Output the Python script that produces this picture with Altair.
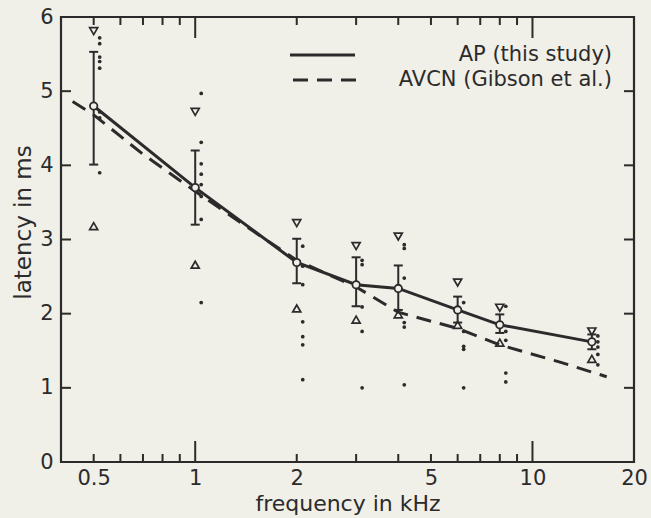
import altair as alt
import pandas as pd

INK = "#2b2b2b"
PAPER = "#f0efe8"
FONT = "DejaVu Sans"

# Frequencies (kHz) at which latencies were measured
freqs = [0.5, 1, 2, 3, 4, 6, 8, 15]
# AP latency: mean and +/- spread (ms)
ap_mean = [4.80, 3.70, 2.69, 2.39, 2.34, 2.05, 1.85, 1.62]
ap_hi = [5.53, 4.20, 3.01, 2.76, 2.65, 2.23, 1.99, 1.72]
ap_lo = [4.01, 3.20, 2.41, 2.10, 2.05, 1.88, 1.74, 1.52]
# Extreme values (open triangles)
tri_down = [5.81, 4.72, 3.22, 2.91, 3.04, 2.42, 2.08, 1.76]
tri_up = [3.18, 2.66, 2.07, 1.92, 1.99, 1.85, 1.61, 1.39]

# Individual measurements (small dots)
dot_freq = ([0.5] * 8 + [1] * 8 + [2] * 7 + [3] * 5 + [4] * 6
            + [6] * 5 + [8] * 5 + [15] * 5)
dot_lat = [5.72, 5.64, 5.46, 5.40, 5.31, 4.72, 4.64, 3.90,
           4.97, 4.31, 4.02, 3.88, 3.74, 3.58, 3.27, 2.15,
           2.91, 2.64, 2.39, 1.89, 1.69, 1.58, 1.11,
           2.72, 2.66, 2.09, 1.76, 1.00,
           2.93, 2.88, 2.48, 1.88, 1.82, 1.04,
           2.15, 1.76, 1.56, 1.52, 1.00,
           2.10, 1.76, 1.64, 1.20, 1.08,
           1.70, 1.62, 1.55, 1.45, 1.31]

# AVCN latency curve (Gibson et al.)
avcn_freq = [0.433, 0.5, 0.7, 1, 1.5, 2, 3, 4, 6, 8, 12, 16.6]
avcn_lat = [4.86, 4.68, 4.15, 3.65, 3.10, 2.72, 2.36, 2.02, 1.80, 1.58, 1.35, 1.15]

# Axis tick positions
x_labels = [0.5, 1, 2, 5, 10, 20]
x_minor = [0.5, 0.6, 0.7, 0.8, 0.9, 2, 3, 4, 5, 6, 7, 8, 9]
x_major = [1, 10]
y_ticks = [1, 2, 3, 4, 5]
y_labels = [0, 1, 2, 3, 4, 5, 6]

legend_labels = ["AP (this study)", "AVCN (Gibson et al.)"]

W, H = 573, 445

ap = pd.DataFrame({"f": freqs, "m": ap_mean, "hi": ap_hi, "lo": ap_lo,
                   "td": tri_down, "tu": tri_up})
dots = pd.DataFrame({"f": dot_freq, "lat": dot_lat})
avcn = pd.DataFrame({"f": avcn_freq, "lat": avcn_lat})

xs = alt.Scale(type="log", domain=[0.4, 20], nice=False)
ys = alt.Scale(domain=[0, 6], nice=False)

x_axis = alt.Axis(values=x_labels, format="~g", ticks=False, domain=False, grid=False,
                  labelFontSize=21, labelPadding=5, labelFlush=False,
                  title="frequency in kHz", titleFontSize=22, titleFontWeight="normal",
                  titlePadding=5)
y_axis = alt.Axis(values=y_labels, format="d", ticks=False, domain=False, grid=False,
                  labelFontSize=21, labelPadding=8, labelFlush=False,
                  title="latency in ms", titleFontSize=23, titleFontWeight="normal",
                  titlePadding=4, titleY=205)

X = alt.X("f:Q", scale=xs, axis=x_axis)
Y = alt.Y("lat:Q", scale=ys, axis=y_axis)

base_dots = alt.Chart(dots).mark_circle(size=14, color=INK, opacity=1).encode(
    x=X, y=Y, xOffset=alt.value(6))

ap_line = alt.Chart(ap).mark_line(color=INK, strokeWidth=3).encode(
    x=alt.X("f:Q", scale=xs), y=alt.Y("m:Q", scale=ys))

avcn_line = alt.Chart(avcn).mark_line(color=INK, strokeWidth=3, strokeDash=[15, 9]).encode(
    x=alt.X("f:Q", scale=xs), y=alt.Y("lat:Q", scale=ys))

err = alt.Chart(ap).mark_rule(color=INK, strokeWidth=2).encode(
    x=alt.X("f:Q", scale=xs), y=alt.Y("lo:Q", scale=ys), y2="hi:Q")
cap_hi = alt.Chart(ap).mark_tick(color=INK, thickness=2, size=9, orient="horizontal",
                                 opacity=1).encode(
    x=alt.X("f:Q", scale=xs), y=alt.Y("hi:Q", scale=ys))
cap_lo = alt.Chart(ap).mark_tick(color=INK, thickness=2, size=9, orient="horizontal",
                                 opacity=1).encode(
    x=alt.X("f:Q", scale=xs), y=alt.Y("lo:Q", scale=ys))

means = alt.Chart(ap).mark_point(shape="circle", size=55, filled=True, fill=PAPER,
                                 stroke=INK, strokeWidth=1.8, opacity=1).encode(
    x=alt.X("f:Q", scale=xs), y=alt.Y("m:Q", scale=ys))

t_down = alt.Chart(ap).mark_point(shape="triangle-down", size=65, filled=False,
                                  color=INK, strokeWidth=1.7, opacity=1).encode(
    x=alt.X("f:Q", scale=xs), y=alt.Y("td:Q", scale=ys))
t_up = alt.Chart(ap).mark_point(shape="triangle-up", size=65, filled=False,
                                color=INK, strokeWidth=1.7, opacity=1).encode(
    x=alt.X("f:Q", scale=xs), y=alt.Y("tu:Q", scale=ys))

# Inward-pointing ticks on all four sides of the frame
tick_minor = pd.DataFrame({"f": x_minor})
tick_major = pd.DataFrame({"f": x_major})
tick_y = pd.DataFrame({"lat": y_ticks})

bx_minor = alt.Chart(tick_minor).mark_rule(color=INK, strokeWidth=2).encode(
    x=alt.X("f:Q", scale=xs), y=alt.value(H), y2=alt.value(H - 8))
bx_major = alt.Chart(tick_major).mark_rule(color=INK, strokeWidth=2).encode(
    x=alt.X("f:Q", scale=xs), y=alt.value(H), y2=alt.value(H - 21))
tx_minor = alt.Chart(tick_minor).mark_rule(color=INK, strokeWidth=2).encode(
    x=alt.X("f:Q", scale=xs), y=alt.value(0), y2=alt.value(8))
tx_major = alt.Chart(tick_major).mark_rule(color=INK, strokeWidth=2).encode(
    x=alt.X("f:Q", scale=xs), y=alt.value(0), y2=alt.value(21))
ly = alt.Chart(tick_y).mark_rule(color=INK, strokeWidth=2).encode(
    y=alt.Y("lat:Q", scale=ys), x=alt.value(0), x2=alt.value(10))
ry = alt.Chart(tick_y).mark_rule(color=INK, strokeWidth=2).encode(
    y=alt.Y("lat:Q", scale=ys), x=alt.value(W), x2=alt.value(W - 10))

# Legend in the upper right of the plot
leg = pd.DataFrame({"label": legend_labels})
leg_solid = alt.Chart(leg.head(1)).mark_rule(color=INK, strokeWidth=3).encode(
    x=alt.value(229), x2=alt.value(294), y=alt.value(38))
leg_dash = alt.Chart(leg.tail(1)).mark_rule(color=INK, strokeWidth=3, strokeDash=[15, 9]).encode(
    x=alt.value(232), x2=alt.value(299), y=alt.value(63))
leg_t1 = alt.Chart(leg.head(1)).mark_text(align="right", baseline="middle", font=FONT,
                                          fontSize=21, color=INK).encode(
    text="label:N", x=alt.value(551), y=alt.value(38))
leg_t2 = alt.Chart(leg.tail(1)).mark_text(align="right", baseline="middle", font=FONT,
                                          fontSize=21, color=INK).encode(
    text="label:N", x=alt.value(551), y=alt.value(63))

chart = alt.layer(
    base_dots, avcn_line, ap_line, err, cap_hi, cap_lo, t_down, t_up, means,
    bx_minor, bx_major, tx_minor, tx_major, ly, ry,
    leg_solid, leg_dash, leg_t1, leg_t2,
).properties(
    width=W, height=H,
    autosize=alt.AutoSizeParams(type="none"),
    padding={"left": 61, "top": 17, "right": 17, "bottom": 56},
    background=PAPER,
).configure_view(
    stroke=INK, strokeWidth=2.2
).configure_axis(
    labelFont=FONT, titleFont=FONT, labelColor=INK, titleColor=INK
)

chart.save("out.html", embed_options={"renderer": "svg", "actions": False})
